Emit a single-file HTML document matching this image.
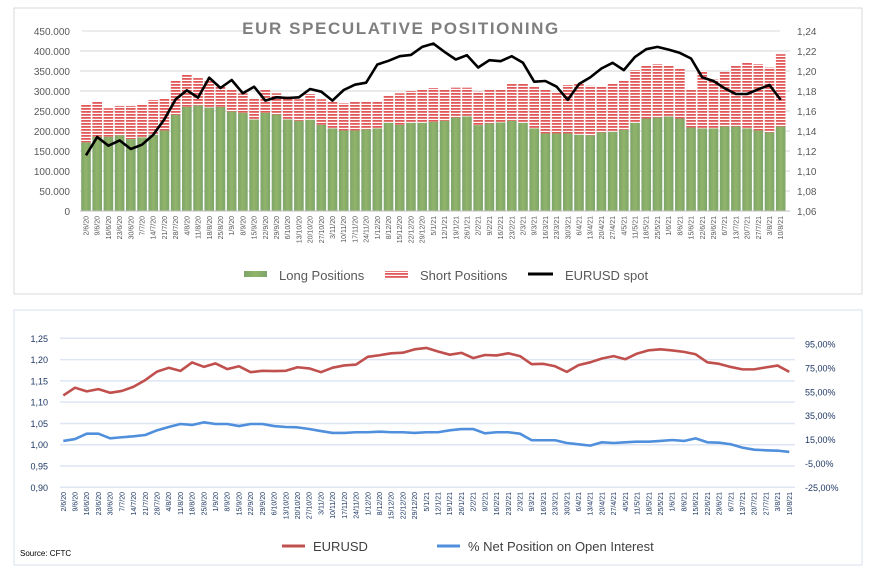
<!DOCTYPE html>
<html><head><meta charset="utf-8"><style>
body{margin:0;background:#fff;width:880px;height:580px;overflow:hidden}
svg{font-family:"Liberation Sans",sans-serif}
</style></head><body>
<svg id="c" width="880" height="580" viewBox="0 0 880 580" xmlns="http://www.w3.org/2000/svg">
<defs>
<pattern id="stripes" width="4" height="3" patternUnits="userSpaceOnUse">
<rect width="4" height="3" fill="#fff"/><rect width="4" height="1.8" fill="#e05858"/></pattern>
<linearGradient id="grn" x1="0" x2="1"><stop offset="0" stop-color="#7da56a"/><stop offset="0.5" stop-color="#92b46a"/><stop offset="1" stop-color="#7da56a"/></linearGradient>
</defs>
<rect x="14" y="8" width="848" height="286" fill="none" stroke="#d9d9d9"/>
<rect x="14" y="310" width="848" height="255" fill="none" stroke="#d9e1ee"/>
<g id="topc"></g>
<g id="botc"></g>
<text x="401" y="34" text-anchor="middle" font-size="17" font-weight="bold" fill="#7f7f7f" letter-spacing="1.6">EUR SPECULATIVE POSITIONING</text>
<line x1="82" y1="31" x2="243" y2="31" stroke="#d9d9d9"/>
<line x1="560" y1="31" x2="780" y2="31" stroke="#d9d9d9"/>
<g font-size="13" fill="#595959">
<rect x="244" y="271" width="23" height="6" fill="url(#grn)"/>
<text x="279" y="280">Long Positions</text>
<rect x="385" y="271" width="23" height="7" fill="url(#stripes)"/>
<text x="420" y="280">Short Positions</text>
<line x1="528" y1="274" x2="553" y2="274" stroke="#000" stroke-width="3"/>
<text x="565" y="280">EURUSD spot</text>
</g>
<g font-size="13" fill="#404040">
<line x1="282" y1="546" x2="305" y2="546" stroke="#c0504d" stroke-width="3"/>
<text x="313" y="551">EURUSD</text>
<line x1="437" y1="546" x2="460" y2="546" stroke="#4f8fdc" stroke-width="3"/>
<text x="468" y="551">% Net Position on Open Interest</text>
</g>
<text x="20" y="556" font-size="8" fill="#000">Source: CFTC</text>
</svg>
<script>
const dates=["2/6/20","9/6/20","16/6/20","23/6/20","30/6/20","7/7/20","14/7/20","21/7/20","28/7/20","4/8/20","11/8/20","18/8/20","25/8/20","1/9/20","8/9/20","15/9/20","22/9/20","29/9/20","6/10/20","13/10/20","20/10/20","27/10/20","3/11/20","10/11/20","17/11/20","24/11/20","1/12/20","8/12/20","15/12/20","22/12/20","29/12/20","5/1/21","12/1/21","19/1/21","26/1/21","2/2/21","9/2/21","16/2/21","23/2/21","2/3/21","9/3/21","16/3/21","23/3/21","30/3/21","6/4/21","13/4/21","20/4/21","27/4/21","4/5/21","11/5/21","18/5/21","25/5/21","1/6/21","8/6/21","15/6/21","22/6/21","29/6/21","6/7/21","13/7/21","20/7/21","27/7/21","3/8/21","10/8/21"];
const longPos=[171500,185600,185600,189000,179800,184000,190600,201400,240300,260200,263500,258600,260200,248600,245300,228700,245300,241200,228700,225400,227900,215500,206400,201400,201400,203900,206400,220400,215500,220400,220400,222900,225400,233700,236200,214600,218800,221300,225400,220400,206400,193900,193900,193900,190600,189000,196400,198000,203000,220400,231200,233700,236200,231200,208800,206400,206400,211300,211300,206400,201400,196400,211300];
const totalPos=[267700,273500,256900,262700,262700,267700,277600,282600,327300,342300,332300,324900,312400,304100,294200,282600,302500,294200,285900,279300,292500,279300,274300,269300,272600,275100,275100,287600,294200,300000,302500,307500,302500,308300,308300,298300,302500,304100,317400,319000,312400,302500,297500,314900,317400,313300,312400,319000,327300,352200,363000,367100,363800,357200,302500,349700,329000,348000,363800,372100,367100,358800,392000];
const eurusd=[1.1157,1.134,1.1253,1.1306,1.122,1.1263,1.1362,1.1518,1.1717,1.1807,1.1734,1.1933,1.183,1.191,1.1777,1.1843,1.1704,1.1737,1.173,1.1737,1.182,1.1793,1.1704,1.181,1.1863,1.1883,1.2065,1.2102,1.2148,1.2161,1.2241,1.2274,1.2191,1.2115,1.2158,1.2035,1.2108,1.2098,1.2148,1.2082,1.1893,1.19,1.1843,1.1711,1.187,1.1936,1.2025,1.2082,1.2009,1.2141,1.2218,1.2241,1.2214,1.2181,1.2125,1.1936,1.19,1.1827,1.177,1.177,1.1817,1.186,1.1711];
const netPct=[13.8,15.4,19.9,19.9,16.0,16.9,17.7,18.8,22.7,25.5,28.0,27.2,29.4,28.0,28.0,26.3,28.0,28.0,26.3,25.5,25.2,23.8,22.1,20.5,20.5,21.1,21.1,21.6,21.1,21.1,20.5,21.1,21.1,22.7,23.8,23.8,20.2,21.1,21.1,19.9,14.4,14.4,14.4,12.1,11.0,9.9,12.7,12.1,12.7,13.2,13.2,13.8,14.6,13.8,16.0,12.7,12.4,11.0,8.2,6.5,6.0,5.7,4.6];
const leftTicks=[0,50000,100000,150000,200000,250000,300000,350000,400000,450000];
const leftTickLabels=["0","50.000","100.000","150.000","200.000","250.000","300.000","350.000","400.000","450.000"];
const rightTicks=[1.06,1.08,1.10,1.12,1.14,1.16,1.18,1.20,1.22,1.24];
const botLeftTicks=[0.90,0.95,1.00,1.05,1.10,1.15,1.20,1.25];
const botRightTicks=[-25,-5,15,35,55,75,95];

const NS="http://www.w3.org/2000/svg";
function mk(parent,tag,attrs){const e=document.createElementNS(NS,tag);for(const k in attrs)e.setAttribute(k,attrs[k]);parent.appendChild(e);return e;}
const topG=document.getElementById('topc'), botG=document.getElementById('botc');
const n=dates.length;
const tY=v=>211-(v/450000)*180;
const tR=v=>211-((v-1.06)/0.18)*180;
const tX=i=>86+i*(780.7-86)/(n-1);
const bw=9.6;
leftTicks.forEach((t,i)=>{
 if(i>0&&i<leftTicks.length-1){const g=mk(topG,'line',{x1:80,x2:790,y1:tY(t),y2:tY(t),stroke:'#e3e3e3','stroke-width':1.5});
 
 }
 const l=mk(topG,'text',{x:70,y:tY(t)+4,'text-anchor':'end','font-size':10,fill:'#595959'});l.textContent=leftTickLabels[i];
 
 
});
rightTicks.forEach(t=>{const l=mk(topG,'text',{x:797,y:tR(t)+4,'font-size':10,fill:'#595959'});l.textContent=t.toFixed(2).replace('.',',');
 
 });
for(let i=0;i<n;i++){
 const x=tX(i)-bw/2;
 const s=mk(topG,'rect',{x:x,y:tY(totalPos[i]),width:bw,height:tY(longPos[i])-tY(totalPos[i]),fill:'url(#stripes)'});
 
 
 const g=mk(topG,'rect',{x:x,y:tY(longPos[i]),width:bw,height:211-tY(longPos[i]),fill:'url(#grn)'});
 
 
 const l=mk(topG,'text',{x:0,y:0,'text-anchor':'end','font-size':7,fill:'#595959',transform:`translate(${tX(i)+2.5},216) rotate(-90)`});l.textContent=dates[i];
 
 
}
const ax=mk(topG,'line',{x1:80,x2:790,y1:211,y2:211,stroke:'#bfbfbf'});


const sp=mk(topG,'polyline',{points:eurusd.map((v,i)=>tX(i)+','+tR(v)).join(' '),fill:'none',stroke:'#000','stroke-width':2.6,'stroke-linejoin':'round'});


const bY=v=>487.3-((v-0.90)/0.35)*149;
const bP=p=>487.3-((p+25)/120)*143.3;
const bX=i=>63.3+i*(789.3-63.3)/(n-1);
botLeftTicks.forEach(t=>{
 const g=mk(botG,'line',{x1:60,x2:795,y1:bY(t),y2:bY(t),stroke:'#dde6f2','stroke-width':1.5});
 
 
 const l=mk(botG,'text',{x:48,y:bY(t)+3.5,'text-anchor':'end','font-size':9,fill:'#1f3864'});l.textContent=t.toFixed(2).replace('.',',');
 
 
});
botRightTicks.forEach(t=>{const l=mk(botG,'text',{x:805,y:bP(t)+3.5,'font-size':9,fill:'#1f3864'});l.textContent=t.toFixed(2).replace('.',',')+'%';
 
 });
for(let i=0;i<n;i++){
 const l=mk(botG,'text',{x:0,y:0,'text-anchor':'end','font-size':7,fill:'#1f3864',transform:`translate(${bX(i)+2.5},492) rotate(-90)`});l.textContent=dates[i];
 
 
}
const rl=mk(botG,'polyline',{points:eurusd.map((v,i)=>bX(i)+','+bY(v)).join(' '),fill:'none',stroke:'#c0504d','stroke-width':2.6,'stroke-linejoin':'round'});


const bl=mk(botG,'polyline',{points:netPct.map((v,i)=>bX(i)+','+bP(v)).join(' '),fill:'none',stroke:'#4f8fdc','stroke-width':2.6,'stroke-linejoin':'round'});


</script>
</body></html>
